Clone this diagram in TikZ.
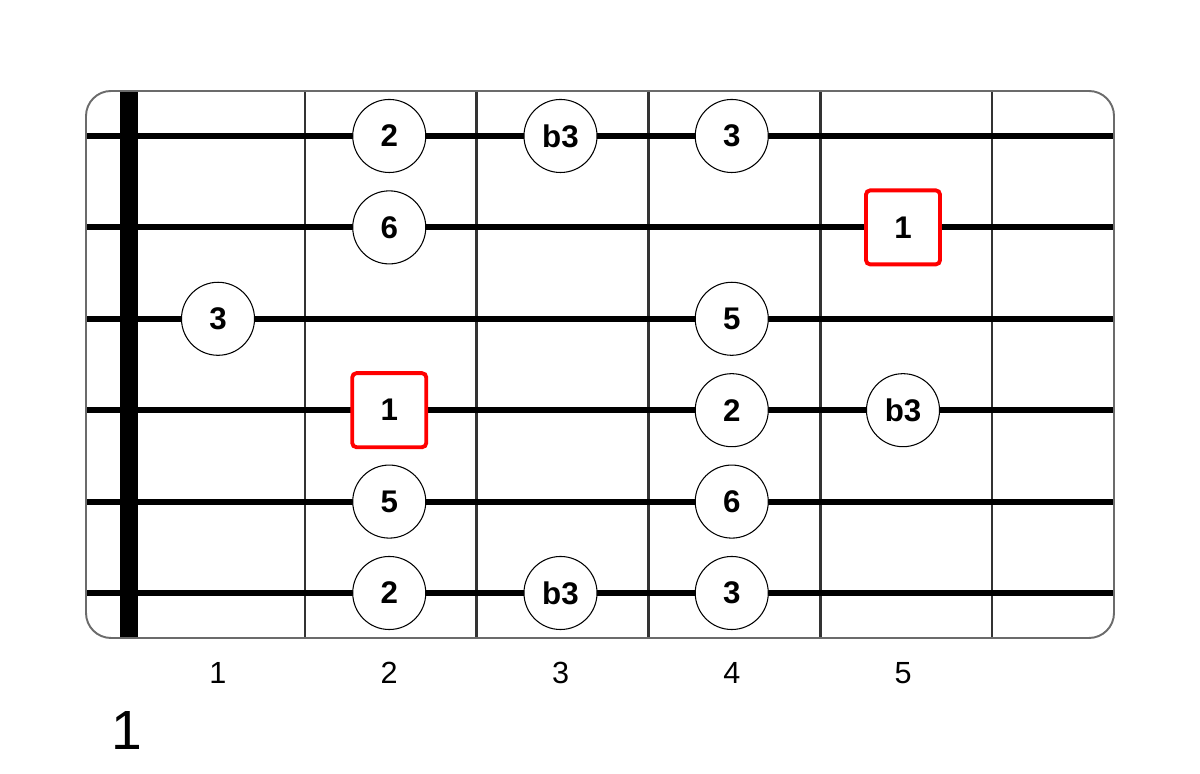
\documentclass[tikz,border=0pt]{standalone}
\usepackage{fontspec}
\setmainfont{Liberation Sans}
\usetikzlibrary{positioning}
\definecolor{rootRed}{rgb}{1,0,0}
\definecolor{frameGray}{rgb}{0.42,0.42,0.42}

\begin{document}
\begin{tikzpicture}[x=0.01cm,y=-0.01cm,
    note/.style={circle,draw,fill=white,line width=0.3pt,minimum size=0.73cm,inner sep=0pt,font=\fontsize{8.9}{9}\bfseries\selectfont},
    rootnote/.style={rectangle,draw=rootRed,fill=white,line width=1.1pt,rounded corners=1.2pt,minimum size=0.74cm,inner sep=0pt,font=\fontsize{8.9}{9}\bfseries\selectfont},
    fretnum/.style={font=\fontsize{8.7}{9}\selectfont}]

      \useasboundingbox (0,0) rectangle (1200,774);

      \def\nstrings{6}
      \def\nfrets{5}
      \def\stringGap{91.4}
      \def\fretGap{171.75}
      \def\cellGap{171.25}

      % draw the frets
      \foreach \i in {1,...,\nfrets}
        \draw [line width=0.8pt,color=black!80] ({305+(\i-1)*\fretGap},91) -- ({305+(\i-1)*\fretGap},638);

      % draw the strings
      \foreach \s in {1,...,\nstrings}
        \draw [line width=1.75pt] (86,{136+(\s-1)*\stringGap}) -- (1114,{136+(\s-1)*\stringGap});

      % draw the nut
      \draw [line width=5.1pt] (129,91) -- (129,638);

      % draw the frame
      \draw [line width=0.55pt,color=frameGray,rounded corners=0.25cm] (86,91) rectangle (1114,638);

      % draw the notes: string/fret/label
      \def\notes{1/2/2, 1/3/b3, 1/4/3,
        2/2/6,
        3/1/3, 3/4/5,
        4/4/2, 4/5/b3,
        5/2/5, 5/4/6,
        6/2/2, 6/3/b3, 6/4/3}
      \foreach \s/\f/\t [count=\ni] in \notes
        \node [note] (n\ni) at ({218+(\f-1)*\cellGap},{136+(\s-1)*\stringGap}) {\t};

      % draw the roots
      \def\roots{2/5, 4/2}
      \foreach \s/\f [count=\ni] in \roots
        \node [rootnote] (root\ni) at ({218+(\f-1)*\cellGap},{136+(\s-1)*\stringGap}) {1};

      % label the frets
      \foreach \f in {1,...,\nfrets}
        \node [fretnum] (fret\f) at ({218+(\f-1)*\cellGap},673) {\f};

      % label the position
      \node [font=\fontsize{15.7}{16}\selectfont] (position) at (127,731) {1};

\end{tikzpicture}
\end{document}
